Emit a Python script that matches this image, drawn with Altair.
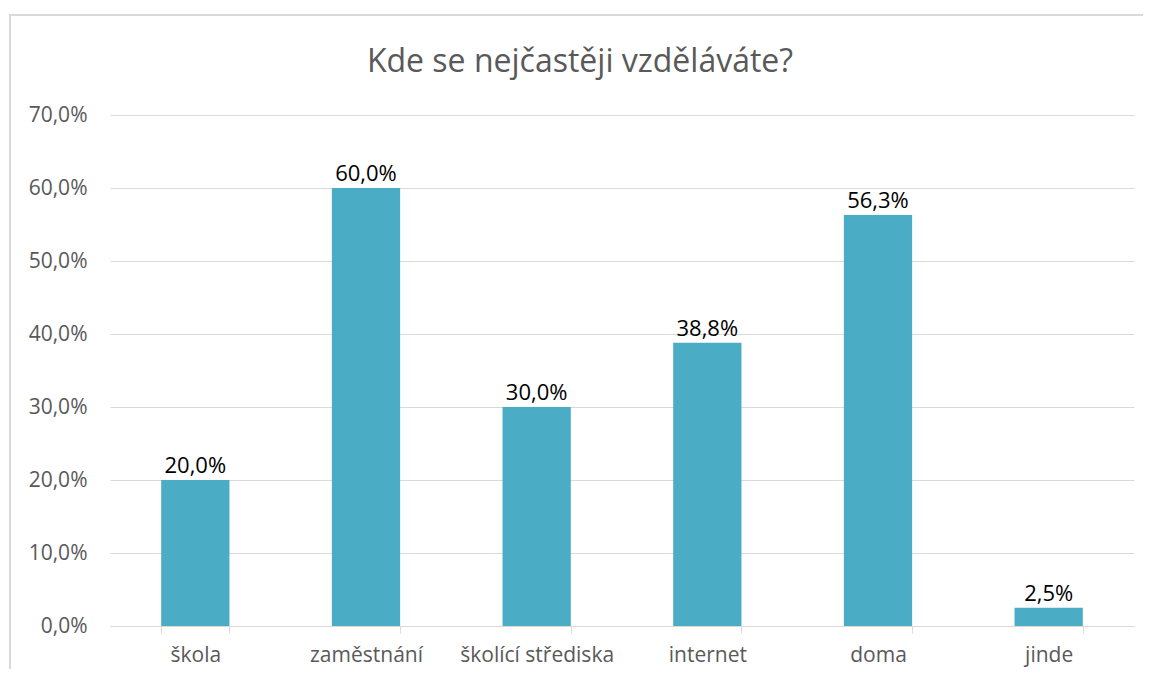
import altair as alt
import pandas as pd

title_text = "Kde se nejčastěji vzděláváte?"
categories = ["škola", "zaměstnání", "školící střediska", "internet", "doma", "jinde"]
values = [20.0, 60.0, 30.0, 38.8, 56.3, 2.5]
y_ticks = [0, 10, 20, 30, 40, 50, 60, 70]

df = pd.DataFrame({"kategorie": categories, "hodnota": values})
title_df = pd.DataFrame({"t": [title_text]})

FONT = "Open Sans"
GREY = "#595959"
LINE = "#d9d9d9"
BAR = "#4BACC6"

x_enc = alt.X(
    "kategorie:N",
    sort=categories,
    scale=alt.Scale(paddingInner=0.6, paddingOuter=0.3),
    axis=alt.Axis(
        title=None,
        labelAngle=0,
        labelColor=GREY,
        labelFontSize=21,
        labelFont=FONT,
        labelPadding=11,
        tickBand="extent",
        tickColor=LINE,
        tickSize=7,
        domainColor=LINE,
        grid=False,
    ),
)
y_enc = alt.Y(
    "hodnota:Q",
    scale=alt.Scale(domain=[0, 70], nice=False),
    axis=alt.Axis(
        title=None,
        values=y_ticks,
        labelExpr="replace(format(datum.value, '.1f'), '.', ',') + '%'",
        labelColor=GREY,
        labelFontSize=21,
        labelFont=FONT,
        labelPadding=23,
        ticks=False,
        domain=False,
        grid=True,
        gridColor=LINE,
        gridWidth=1,
    ),
)

bars = alt.Chart(df).mark_bar(color=BAR).encode(x=x_enc, y=y_enc)

labels = (
    alt.Chart(df)
    .transform_calculate(
        lbl="replace(format(datum.hodnota, '.1f'), '.', ',') + '%'"
    )
    .mark_text(baseline="alphabetic", dy=-7, fontSize=22, font=FONT, color="black")
    .encode(x=alt.X("kategorie:N", sort=categories), y="hodnota:Q", text="lbl:N")
)

frame = alt.Chart(df).mark_rect(fill=None, stroke=LINE, strokeWidth=1.5).encode(
    x=alt.value(-100), x2=alt.value(1200), y=alt.value(-100), y2=alt.value(700)
)

title = alt.Chart(title_df).mark_text(
    baseline="alphabetic", align="center", fontSize=32, font=FONT, color=GREY
).encode(text="t:N", x=alt.value(470), y=alt.value(-43))

chart = (
    alt.layer(frame, bars, labels, title)
    .properties(
        width=1024,
        height=511,
        padding={"left": 102, "top": 107, "right": 9, "bottom": 43},
        autosize=alt.AutoSizeParams(type="none"),
    )
    .configure_view(stroke=None)
)

chart.save("out.html", embed_options={"renderer": "svg", "actions": False})
